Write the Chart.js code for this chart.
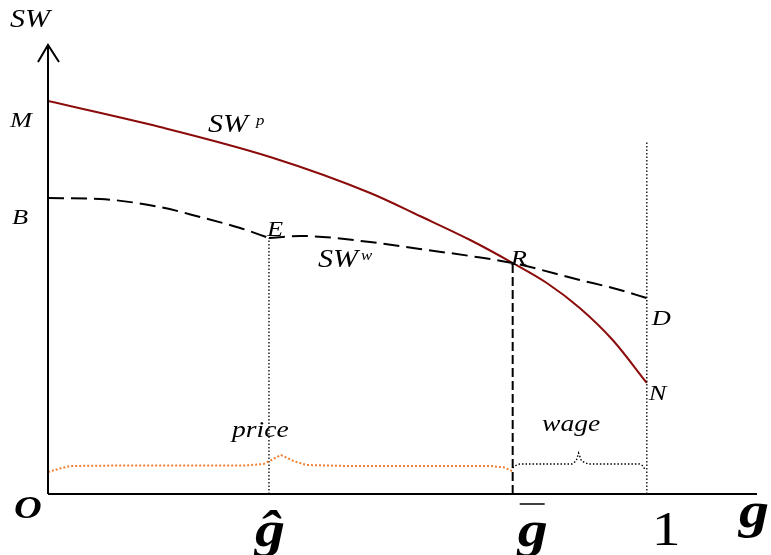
<!DOCTYPE html>
<html>
<head>
<meta charset="utf-8">
<script src="https://cdn.jsdelivr.net/npm/chart.js@4.4.1/dist/chart.umd.min.js"></script>
<style>
  html, body { margin: 0; padding: 0; background: #fff; }
  #wrap { width: 771px; height: 555px; }
</style>
</head>
<body>
<div id="wrap"><canvas id="myChart" width="771" height="555"></canvas></div>
<script>
// key points on the g axis
const gHat = 0.369;
const gBar = 0.776;
const gOne = 1;

// SW^p (price regime)
const swPx = [0, 0.187, 0.371, 0.538, 0.621, 0.705, 0.776, 0.833, 0.888, 0.943, 1];
const swPy = [393, 367, 337, 301, 278, 254, 231, 211, 186, 154, 111];

// SW^w (wage regime), kinked at E
const swWx = [0, 0.087, 0.187, 0.254, 0.321, 0.369, 0.421, 0.538, 0.621, 0.705, 0.776, 0.888, 0.943, 1];
const swWy = [296, 295, 287, 277, 266, 256, 258, 252, 245, 238, 231, 214, 206, 196];
const kinkE = 5;

// top of the dotted line at g = 1
const oneTop = 352;

// braces along the bottom
const priceX = [0, 0.02, 0.037, 0.12, 0.33, 0.36, 0.389, 0.41, 0.432, 0.5, 0.74, 0.762, 0.775];
const priceY = [22, 25.5, 28, 28.5, 28.5, 30, 39, 33, 29, 28, 28, 26.5, 23];
const wageX = [0.776, 0.781, 0.788, 0.875, 0.882, 0.886, 0.891, 0.902, 0.988, 0.994, 0.997];
const wageY = [26, 28.5, 30, 30, 33, 41, 33, 30, 30, 28, 24];

const pts = (xs, ys) => xs.map((x, i) => ({ x: x, y: ys[i] }));

function line(data, color, width, dash, smooth) {
  return {
    data: data,
    showLine: true,
    borderColor: color,
    borderWidth: width,
    borderDash: dash,
    pointRadius: 0,
    fill: false,
    tension: smooth ? 0.4 : 0,
    cubicInterpolationMode: smooth ? "monotone" : "default",
  };
}

const ptE = { x: swWx[kinkE], y: swWy[kinkE] };
const ptR = { x: gBar, y: swWy[swWx.indexOf(gBar)] };
const ptD = { x: gOne, y: swWy[swWy.length - 1] };
const ptN = { x: gOne, y: swPy[swPy.length - 1] };

// axes, arrow and all the lettering
const decor = {
  id: "decor",
  afterDatasetsDraw(chart) {
    const ctx = chart.ctx;
    const sx = chart.scales.x, sy = chart.scales.y;
    const X = (v) => sx.getPixelForValue(v);
    const Y = (v) => sy.getPixelForValue(v);
    const x0 = X(0), y0 = Y(0);
    const top = chart.chartArea.top;
    const right = chart.chartArea.right;

    ctx.save();
    ctx.strokeStyle = "#000";
    ctx.lineWidth = 2;
    ctx.setLineDash([]);
    ctx.beginPath();
    ctx.moveTo(x0, y0);
    ctx.lineTo(x0, top);
    ctx.moveTo(x0 - 10, top + 17);
    ctx.lineTo(x0, top);
    ctx.lineTo(x0 + 11, top + 17);
    ctx.moveTo(x0, y0);
    ctx.lineTo(right, y0);
    ctx.stroke();

    ctx.fillStyle = "#000";
    const txt = (s, x, y, font, align) => {
      ctx.save();
      ctx.font = font;
      ctx.textAlign = align || "left";
      ctx.textBaseline = "alphabetic";
      ctx.translate(x, y);
      ctx.scale(1.2, 1);
      ctx.fillText(s, 0, 0);
      ctx.restore();
    };
    const serif = '"Liberation Serif", "Times New Roman", serif';
    const it = (n) => "italic " + n + "px " + serif;

    txt("SW", 10, 27, it(25));
    txt("M", 10, Y(swPy[0]) + 26, it(22));
    txt("B", 12, Y(swWy[0]) + 26, it(22));

    txt("SW", 208, 132, it(25));
    txt("p", 256, 125, it(14));
    txt("SW", 318, 267, it(25));
    txt("w", 361, 260, it(14));

    txt("E", X(ptE.x) - 2, Y(ptE.y) - 2, it(22));
    txt("R", X(ptR.x) - 2, Y(ptR.y) + 2, it(22));
    txt("D", X(ptD.x) + 5, Y(ptD.y) + 27, it(22));
    txt("N", X(ptN.x) + 2, Y(ptN.y) + 17, it(22));

    txt("price", 232, 437, it(23));
    txt("wage", 542, 431, it(23));

    const big = "bold italic 50px " + serif;
    txt("O", 14, y0 + 24, "bold italic 32px " + serif);
    txt("\u011d", X(gHat) + 1, y0 + 52, big, "center");
    txt("g", X(gBar) + 20, y0 + 52, big, "center");
    ctx.lineWidth = 1.5;
    ctx.beginPath();
    ctx.moveTo(X(gBar) + 7, y0 + 10);
    ctx.lineTo(X(gBar) + 32, y0 + 10);
    ctx.stroke();
    txt("1", X(gOne) + 5, y0 + 51, "48px " + serif);
    txt("g", 739, y0 + 33, big);
    ctx.restore();
  },
};

new Chart("myChart", {
  type: "scatter",
  data: {
    datasets: [
      line(pts(priceX, priceY), "#f08030", 2, [2, 2], false),
      line(pts(wageX, wageY), "#000", 1.4, [1.5, 2], false),
      line([{ x: gHat, y: 0 }, ptE], "#000", 1.3, [1.5, 2], false),
      line([{ x: gOne, y: 0 }, { x: gOne, y: oneTop }], "#000", 1.3, [1.5, 2], false),
      line([{ x: gBar, y: 0 }, ptR], "#000", 2, [9, 4], false),
      line(pts(swWx.slice(0, kinkE + 1), swWy.slice(0, kinkE + 1)), "#000", 2, [16, 7], true),
      line(pts(swWx.slice(kinkE), swWy.slice(kinkE)), "#000", 2, [16, 7], true),
      line(pts(swPx, swPy), "#8b0a0a", 2, [], true),
    ],
  },
  options: {
    responsive: false,
    animation: false,
    layout: { padding: { left: 48, right: 14, top: 45, bottom: 61 } },
    plugins: { legend: { display: false }, tooltip: { enabled: false } },
    scales: {
      x: { type: "linear", min: 0, max: 1.184, display: false },
      y: { type: "linear", min: 0, max: 449, display: false },
    },
  },
  plugins: [decor],
});
</script>
</body>
</html>
